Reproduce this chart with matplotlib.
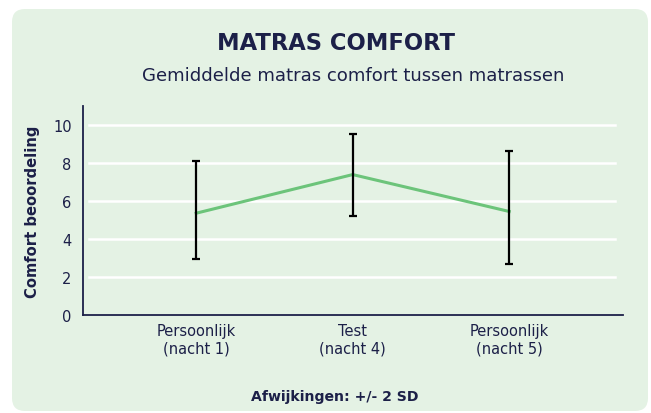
import matplotlib
matplotlib.use("Agg")
import matplotlib.pyplot as plt
from matplotlib.patches import FancyBboxPatch
from matplotlib.transforms import IdentityTransform

categories = ["Persoonlijk\n(nacht 1)", "Test\n(nacht 4)", "Persoonlijk\n(nacht 5)"]
means = [5.35, 7.38, 5.44]
lower = [2.95, 5.21, 2.67]
upper = [8.07, 9.51, 8.62]
yticks = [0, 2, 4, 6, 8, 10]

NAVY = "#1c2048"
PANEL = "#e4f2e4"
GREEN = "#6cc47a"

plt.rcParams['font.family'] = ['DejaVu Sans']

W, H = 651, 414
fig = plt.figure(figsize=(W / 100, H / 100), dpi=100)
fig.patch.set_facecolor("white")

panel = FancyBboxPatch((12, 2), 636, H - 12, boxstyle="round,pad=0,rounding_size=13",
                       transform=IdentityTransform(), facecolor=PANEL, edgecolor="none", zorder=-5)
fig.patches.append(panel)

ax = fig.add_axes([82.7 / W, 1 - 316 / H, 540 / W, (316 - 106.7) / H])
ax.set_facecolor("none")
ax.set_zorder(2)

x = list(range(len(categories)))
for yv in yticks:
    ax.axhline(yv, xmin=0.012, xmax=0.985, color="white", lw=1.8, zorder=1)

ax.plot(x, means, color=GREEN, lw=2.2, zorder=3)
yerr = [[m - l for m, l in zip(means, lower)], [u - m for m, u in zip(means, upper)]]
ax.errorbar(x, means, yerr=yerr, fmt="none", ecolor="black", elinewidth=1.6,
            capsize=3, capthick=1.6, zorder=4)

ax.set_xlim(-0.725, 2.725)
ax.set_ylim(0, 11)
ax.set_yticks(yticks)
ax.set_xticks(x)
ax.set_xticklabels(categories, fontsize=10.5, color=NAVY, linespacing=1.2)
ax.tick_params(axis="both", length=0, colors=NAVY)
ax.tick_params(axis="y", labelsize=10.5, pad=8)
ax.tick_params(axis="x", pad=6)
for s in ["top", "right"]:
    ax.spines[s].set_visible(False)
for s in ["left", "bottom"]:
    ax.spines[s].set_color(NAVY)
    ax.spines[s].set_linewidth(1.3)

ax.set_ylabel("Comfort beoordeling", fontsize=10.6, fontweight="bold", color=NAVY, labelpad=9)

fig.text(336 / W, 1 - 43 / H, "MATRAS COMFORT", ha="center", va="center",
         fontsize=16.3, fontweight="bold", color=NAVY)
fig.text(353 / W, 1 - 76 / H, "Gemiddelde matras comfort tussen matrassen", ha="center",
         va="center", fontsize=13.1, color=NAVY)
fig.text(335 / W, 1 - 397 / H, "Afwijkingen: +/- 2 SD", ha="center", va="center",
         fontsize=10.1, fontweight="bold", color=NAVY)

fig.savefig("out.png", dpi=100, facecolor="white")
